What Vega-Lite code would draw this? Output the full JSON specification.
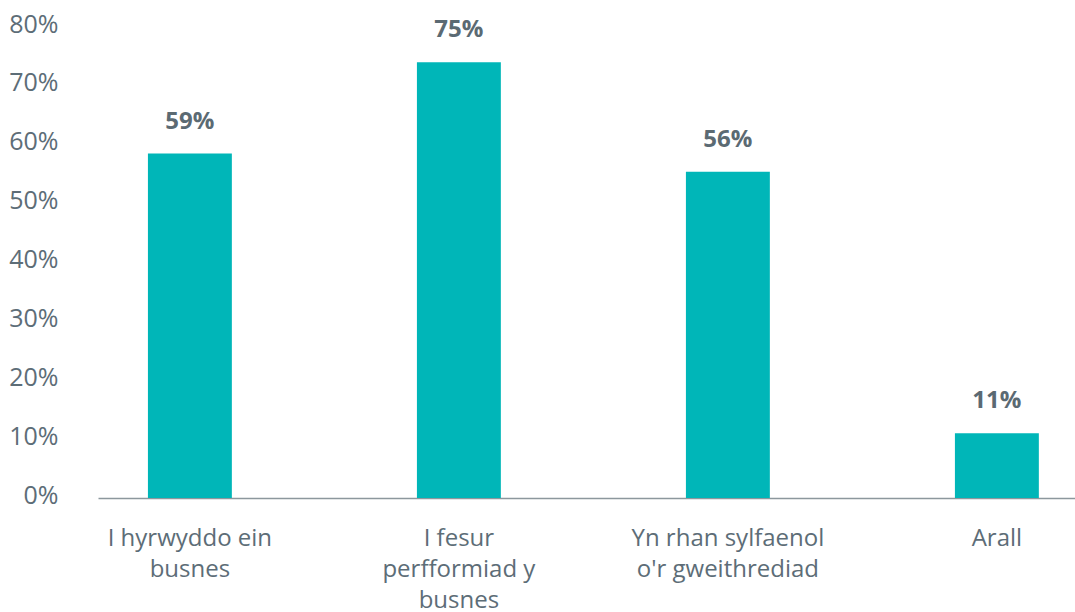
{
  "$schema": "https://vega.github.io/schema/vega-lite/v6.json",
  "autosize": "none",
  "width": 977,
  "height": 471,
  "padding": {"left": 98, "top": 27, "right": 0, "bottom": 114},
  "background": "white",
  "config": {"view": {"stroke": null}, "font": "Open Sans"},
  "data": {"values": [
    {"category": "I hyrwyddo ein busnes", "value": 58.5, "label": "59%"},
    {"category": "I fesur perfformiad y busnes", "value": 74, "label": "75%"},
    {"category": "Yn rhan sylfaenol o'r gweithrediad", "value": 55.4, "label": "56%"},
    {"category": "Arall", "value": 11, "label": "11%"}
  ]},
  "encoding": {
    "x": {
      "field": "category", "type": "nominal", "sort": null, "title": null,
      "scale": {"paddingInner": 0.688, "paddingOuter": 0.16, "align": 0.58},
      "axis": {
        "labelAngle": 0, "labelFontSize": 24, "labelColor": "#5d6d77", "labelFont": "Open Sans",
        "labelLimit": 0, "labelLineHeight": 31, "labelPadding": 28, "ticks": false,
        "domainColor": "#8c979d", "domainWidth": 1.5,
        "labelExpr": "datum.value == 'I hyrwyddo ein busnes' ? ['I hyrwyddo ein', 'busnes'] : datum.value == 'I fesur perfformiad y busnes' ? ['I fesur', 'perfformiad y', 'busnes'] : datum.value == 'Arall' ? 'Arall' : ['Yn rhan sylfaenol', \"o'r gweithrediad\"]"
      }
    },
    "y": {
      "field": "value", "type": "quantitative", "title": null,
      "scale": {"domain": [0, 80], "nice": false},
      "axis": {
        "values": [0, 10, 20, 30, 40, 50, 60, 70, 80],
        "labelExpr": "datum.value + '%'",
        "labelFontSize": 25, "labelColor": "#5d6d77", "labelFont": "Open Sans",
        "labelPadding": 40, "labelOffset": -3, "ticks": false, "domain": false, "grid": false
      }
    }
  },
  "layer": [
    {"mark": {"type": "bar", "color": "#00b6b8"}},
    {"mark": {"type": "text", "fontSize": 24, "fontWeight": "bold", "color": "#5b6a73", "baseline": "alphabetic", "dy": -25, "font": "Open Sans"},
     "encoding": {"text": {"field": "label"}}}
  ]
}
